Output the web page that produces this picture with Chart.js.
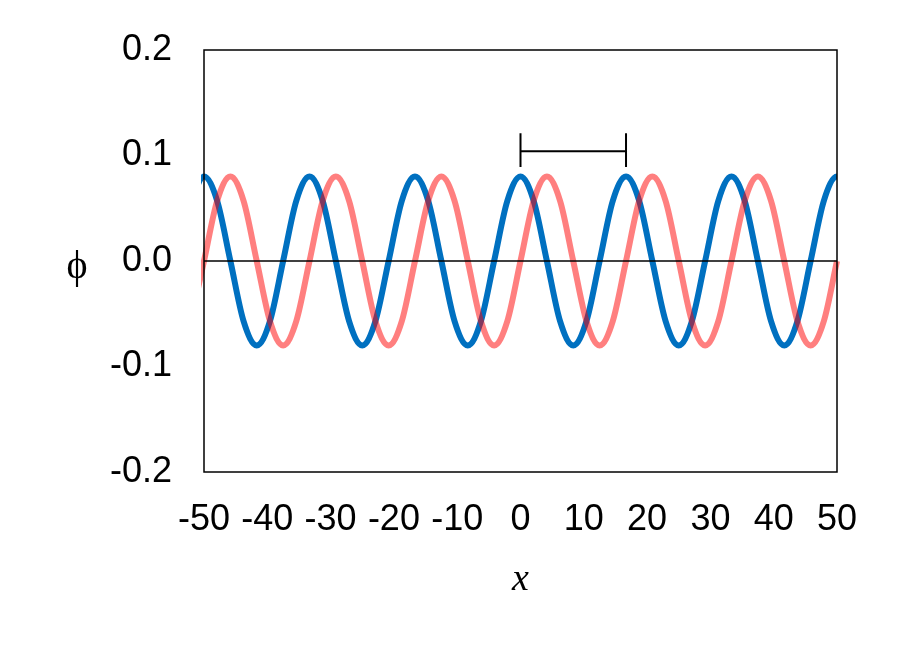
<!DOCTYPE html>
<html>
<head>
<meta charset="utf-8">
<script src="https://cdn.jsdelivr.net/npm/chart.js"></script>
<style>
    body { margin: 0; background: #fff; }
</style>
</head>
<body>
<canvas id="myChart" width="908" height="660"></canvas>
<script>
// x positions, sampled every 1/8 of a wavelength (one extra sample past each edge)
const xs = [-52.08, -50, -47.92, -45.83, -43.75, -41.67, -39.58, -37.5, -35.42,
    -33.33, -31.25, -29.17, -27.08, -25, -22.92, -20.83, -18.75,
    -16.67, -14.58, -12.5, -10.42, -8.33, -6.25, -4.17, -2.08,
    0, 2.08, 4.17, 6.25, 8.33, 10.42, 12.5, 14.58,
    16.67, 18.75, 20.83, 22.92, 25, 27.08, 29.17, 31.25,
    33.33, 35.42, 37.5, 39.58, 41.67, 43.75, 45.83, 47.92, 50, 52.08];

const bluePhi = [0.057, 0.08, 0.057, 0, -0.057, -0.08, -0.057, 0, 0.057,
    0.08, 0.057, 0, -0.057, -0.08, -0.057, 0, 0.057,
    0.08, 0.057, 0, -0.057, -0.08, -0.057, 0, 0.057,
    0.08, 0.057, 0, -0.057, -0.08, -0.057, 0, 0.057,
    0.08, 0.057, 0, -0.057, -0.08, -0.057, 0, 0.057,
    0.08, 0.057, 0, -0.057, -0.08, -0.057, 0, 0.057, 0.08, 0.057];

const pinkPhi = [-0.057, 0, 0.057, 0.08, 0.057, 0, -0.057, -0.08, -0.057,
    0, 0.057, 0.08, 0.057, 0, -0.057, -0.08, -0.057,
    0, 0.057, 0.08, 0.057, 0, -0.057, -0.08, -0.057,
    0, 0.057, 0.08, 0.057, 0, -0.057, -0.08, -0.057,
    0, 0.057, 0.08, 0.057, 0, -0.057, -0.08, -0.057,
    0, 0.057, 0.08, 0.057, 0, -0.057, -0.08, -0.057, 0, 0.057];

// wavelength marker
const markX = [0, 16.67];
const markY = 0.104;
const capY = [0.121, 0.089];

const xTicks = [-50, -40, -30, -20, -10, 0, 10, 20, 30, 40, 50];
const yTicks = [-0.2, -0.1, 0, 0.1, 0.2];

const toPoints = (ys) => xs.map((x, i) => ({ x: x, y: ys[i] }));

const marker = [
    { x: markX[0], y: capY[0] }, { x: markX[0], y: capY[1] }, { x: markX[0], y: null },
    { x: markX[0], y: markY }, { x: markX[1], y: markY }, { x: markX[1], y: null },
    { x: markX[1], y: capY[0] }, { x: markX[1], y: capY[1] }
];

const tickFont = { family: "'Liberation Sans', Arial, sans-serif", size: 36 };

const frame = {
    id: 'frame',
    afterDatasetsDraw(chart) {
        const a = chart.chartArea;
        const c = chart.ctx;
        c.save();
        c.strokeStyle = '#000';
        c.lineWidth = 1.5;
        c.strokeRect(a.left, a.top, a.right - a.left, a.bottom - a.top);
        c.fillStyle = '#000';
        c.textAlign = 'center';
        c.textBaseline = 'middle';
        c.font = "40px 'Liberation Serif', serif";
        c.fillText('\u03d5', 77, (a.top + a.bottom) / 2 + 6);
        c.font = "italic 38px 'Liberation Serif', serif";
        c.fillText('x', (a.left + a.right) / 2, 580);
        c.restore();
    }
};

const ctx = document.getElementById('myChart');

new Chart(ctx, {
    type: 'line',
    data: {
        datasets: [{
            label: 'zero',
            data: [{ x: -50, y: 0 }, { x: 50, y: 0 }],
            borderColor: '#000',
            borderWidth: 1.5,
            pointRadius: 0,
            tension: 0
        }, {
            label: 'marker',
            data: marker,
            borderColor: '#000',
            borderWidth: 2,
            pointRadius: 0,
            spanGaps: false,
            tension: 0
        }, {
            label: 'pink',
            data: toPoints(pinkPhi),
            borderColor: 'rgba(255, 0, 0, 0.5)',
            borderWidth: 6,
            pointRadius: 0,
            clip: 3,
            cubicInterpolationMode: 'monotone'
        }, {
            label: 'blue',
            data: toPoints(bluePhi),
            borderColor: '#0070C0',
            borderWidth: 6,
            pointRadius: 0,
            clip: 3,
            cubicInterpolationMode: 'monotone'
        }]
    },
    options: {
        responsive: false,
        animation: false,
        layout: { padding: { left: 54, right: 71, top: 50, bottom: 0 } },
        plugins: {
            legend: { display: false },
            tooltip: { enabled: false }
        },
        scales: {
            x: {
                type: 'linear',
                min: -50,
                max: 50,
                grid: { display: false },
                border: { display: false },
                afterFit: (s) => { s.height = 188; },
                afterBuildTicks: (s) => { s.ticks = xTicks.map(v => ({ value: v })); },
                ticks: {
                    font: tickFont,
                    color: '#000',
                    padding: 18,
                    autoSkip: false,
                    maxRotation: 0
                }
            },
            y: {
                min: -0.2,
                max: 0.2,
                grid: { display: false },
                border: { display: false },
                afterFit: (s) => { s.width = 150; },
                afterBuildTicks: (s) => { s.ticks = yTicks.map(v => ({ value: v })); },
                ticks: {
                    font: tickFont,
                    color: '#000',
                    padding: 24,
                    callback: (v) => (Math.abs(v) < 1e-9 ? 0 : v).toFixed(1)
                }
            }
        }
    },
    plugins: [frame]
});
</script>
</body>
</html>
